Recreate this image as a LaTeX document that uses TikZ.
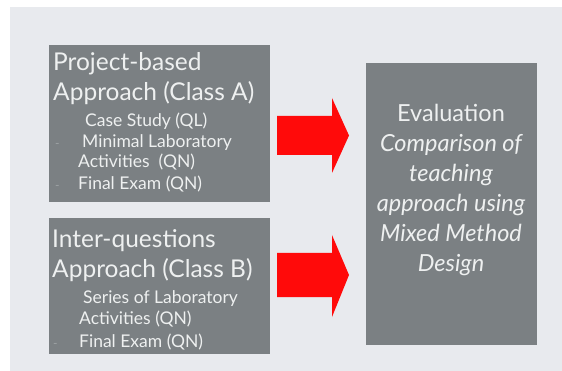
\documentclass[tikz,border=0pt]{standalone}
\usepackage{fontspec}
\setmainfont{Lato}
\definecolor{slidebg}{HTML}{E8EAEE}
\definecolor{boxgrey}{HTML}{7B8083}
\definecolor{txt}{HTML}{EEF0F0}
\definecolor{dashc}{HTML}{A0A4A6}
\definecolor{arrowred}{HTML}{FF0A0A}
\begin{document}
\begin{tikzpicture}[x=1pt,y=-1pt,
  box/.style={fill=boxgrey, draw=none, inner sep=0pt, anchor=north west},
  head/.style={text=txt, inner sep=0pt, anchor=base west, font=\fontsize{24.5}{26}\selectfont},
  sub/.style={text=txt, inner sep=0pt, anchor=base west, font=\fontsize{17.5}{19}\selectfont},
  bul/.style={text=dashc, inner sep=0pt, anchor=base west, font=\fontsize{12}{14}\selectfont},
  evl/.style={text=txt, inner sep=0pt, anchor=base, font=\fontsize{23.5}{26}\selectfont},
  blockarrow/.style={fill=arrowred, draw=none}]
\useasboundingbox (0,0) rectangle (562,371);
\fill[white] (0,0) rectangle (562,371);
\fill[slidebg] (10,7) rectangle (562,371);
% boxes
\node[box, minimum width=221pt, minimum height=157pt] (boxA) at (49,45) {};
\node[box, minimum width=221pt, minimum height=136pt] (boxB) at (49,218) {};
\node[box, minimum width=171pt, minimum height=282pt] (boxE) at (366,63) {};
% box A text
\node[head] (a1) at (53,71) {Project-based};
\node[head] (a2) at (53,101) {Approach (Class A)};
\node[sub] (a3) at (85,127) {Case Study (QL)};
\node[bul] (a4d) at (55,148) {-};
\node[sub] (a4) at (82,148) {Minimal Laboratory};
\node[sub] (a5) at (78,168) {Activities\ \ (QN)};
\node[bul] (a6d) at (55,190) {-};
\node[sub] (a6) at (78,190) {Final Exam (QN)};
% box B text
\node[head] (b1) at (52,248) {Inter-questions};
\node[head] (b2) at (52,278) {Approach (Class B)};
\node[sub] (b3) at (83,303) {Series of Laboratory};
\node[sub] (b4) at (79,324) {Activities (QN)};
\node[bul] (b5d) at (53,347) {-};
\node[sub] (b5) at (79,347) {Final Exam (QN)};
% evaluation text
\node[evl] (e1) at (451,122) {Evaluation};
\node[evl] (e2) at (451,152) {\itshape Comparison of};
\node[evl] (e3) at (451,182) {\itshape teaching};
\node[evl] (e4) at (451,212) {\itshape approach using};
\node[evl] (e5) at (451,242) {\itshape Mixed Method};
\node[evl] (e6) at (451,272) {\itshape Design};
% arrows
\fill[blockarrow] (277,116) -- (332,116) -- (332,98) -- (349,135.5) -- (332,173) -- (332,155) -- (277,155) -- cycle;
\fill[blockarrow] (277,253) -- (332,253) -- (332,235) -- (349,275) -- (332,317) -- (332,297) -- (277,297) -- cycle;
\end{tikzpicture}
\end{document}
